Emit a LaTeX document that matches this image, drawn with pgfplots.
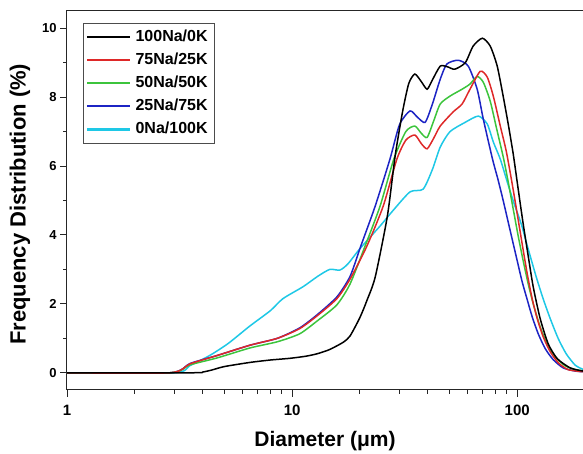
\documentclass[border=0pt]{standalone}
\usepackage{pgfplots}
\pgfplotsset{compat=1.18}
\usepackage{fontspec}
\setmainfont{Liberation Sans}
\definecolor{cRed}{RGB}{222,40,40}
\definecolor{cGreen}{RGB}{60,196,60}
\definecolor{cBlue}{RGB}{28,36,196}
\definecolor{cCyan}{RGB}{30,200,230}
\begin{document}
\begin{tikzpicture}
\begin{axis}[
  name=ax,
  scale only axis,
  width=516pt, height=379pt,
  xmode=log,
  xmin=1, xmax=196,
  ymin=-0.5, ymax=10.5,
  xtick={1,10,100},
  xticklabels={1,10,100},
  ytick={0,2,4,6,8,10},
  minor ytick={1,3,5,7,9},
  tick align=outside,
  xtick pos=left, ytick pos=left,
  major tick length=7pt, minor tick length=4pt,
  axis line style={line width=1pt, black!85},
  every tick/.style={line width=0.9pt, black!85},
  /pgf/number format/assume math mode=true,
  xticklabel style={font=\bfseries\fontsize{15}{15}\selectfont, yshift=-5pt},
  yticklabel style={font=\bfseries\fontsize{13}{13}\selectfont},
  xlabel={Diameter (μm)},
  ylabel={Frequency Distribution (\%)},
  xlabel style={font=\bfseries\fontsize{21}{21}\selectfont, at={(axis description cs:0.5,-0.134)}, anchor=center},
  ylabel style={font=\bfseries\fontsize{22}{22}\selectfont, at={(axis description cs:-0.091,0.49)}, anchor=center},
  legend style={at={(axis description cs:0.031,0.968)}, anchor=north west,
    draw=black!70, line width=0.8pt, font=\bfseries\fontsize{16}{16}\selectfont,
    nodes={text height=11.5pt, text depth=3pt, inner ysep=4.3pt, inner xsep=4pt},
    row sep=0pt},
  legend cell align=left,
  legend image code/.code={\draw[#1, line width=2.2pt] (0pt,0pt) -- (43pt,0pt);},
  reverse legend,
  every axis plot/.append style={line width=1.5pt, smooth, tension=0.4},
]
% 0Na/100K
\addplot[cCyan] coordinates {
(1,0) (3,0) (3.5,0.2) (4.3,0.5) (5.2,0.85) (6.5,1.36) (8,1.8) (9.1,2.15) (11.2,2.5) (13,2.8) (14.7,3.0) (16.3,2.98) (17.7,3.16) (20,3.6) (24.6,4.26) (28,4.7) (33.4,5.25) (38.2,5.33) (42,5.9) (45.5,6.55) (50.3,7.0) (58.8,7.27) (67.2,7.45) (73.6,7.22) (78.3,6.7) (84.1,6.2) (90.3,5.54) (97,4.9) (104.2,4.32) (111.9,3.59) (121.5,2.78) (130.5,2.14) (140.2,1.57) (152.2,0.99) (165.1,0.55) (181,0.22) (196,0.1)
};
\addlegendentry{0Na/100K}
% 25Na/75K
\addplot[cBlue] coordinates {
(1,0) (2.87,0) (3.52,0.27) (4.64,0.5) (6.5,0.8) (8.6,1.0) (10.8,1.3) (12.9,1.68) (15.8,2.2) (18.1,2.8) (20.2,3.68) (23.4,4.84) (27.2,6.2) (30,7.2) (33.4,7.6) (36,7.42) (39,7.27) (42,7.8) (45.5,8.52) (48.7,8.96) (54.7,9.07) (60.6,8.9) (66.4,8.23) (70.7,7.36) (77.7,6.2) (82.3,5.59) (86.7,4.99) (93.1,4.12) (100,3.25) (105.2,2.64) (110.8,2.12) (116.6,1.62) (124,1.13) (133.2,0.7) (144.5,0.38) (160.2,0.14) (181,0.05) (196,0.03)
};
\addlegendentry{25Na/75K}
% 50Na/50K
\addplot[cGreen] coordinates {
(1,0) (2.87,0) (3.52,0.23) (4.64,0.43) (6.5,0.72) (8.6,0.9) (10.8,1.13) (12.9,1.5) (15.8,1.97) (18.1,2.58) (21.1,3.68) (24.6,4.84) (28.3,6.2) (32,7.0) (35.1,7.16) (37.5,6.95) (39.8,6.83) (42.5,7.3) (45.5,7.8) (50.3,8.03) (56.9,8.23) (61.7,8.38) (66.4,8.6) (70.7,8.43) (75.9,7.88) (81.1,7.07) (86.7,6.26) (91.2,5.54) (96,4.75) (101,3.97) (106.3,3.25) (111.9,2.58) (117.8,2.0) (126.5,1.33) (135.9,0.84) (147.5,0.46) (163.4,0.2) (181,0.09) (196,0.06)
};
\addlegendentry{50Na/50K}
% 75Na/25K
\addplot[cRed] coordinates {
(1,0) (2.87,0) (3.52,0.26) (4.64,0.5) (6.5,0.8) (8.6,1.0) (10.8,1.28) (12.9,1.65) (15.8,2.15) (18.1,2.72) (21.5,3.68) (25.4,4.84) (29.2,6.2) (32,6.75) (35.1,6.9) (37.5,6.65) (39.8,6.5) (42.5,6.8) (45.5,7.16) (51.9,7.57) (56.9,7.8) (61.7,8.23) (68.5,8.75) (73.6,8.58) (78.3,8.03) (84.1,7.16) (89.4,6.43) (95,5.48) (100,4.61) (105.2,3.74) (110.8,2.87) (116.6,2.14) (122.7,1.57) (130.5,1.04) (140.2,0.61) (152.2,0.29) (168.5,0.09) (196,0.03)
};
\addlegendentry{75Na/25K}
% 100Na/0K
\addplot[black] coordinates {
(1,0) (3.6,0) (4.0,0.02) (4.4,0.08) (5,0.18) (6.5,0.3) (8,0.37) (9.8,0.42) (11.5,0.48) (12.9,0.55) (14.5,0.66) (15.8,0.78) (17,0.9) (18.1,1.07) (20,1.6) (21.5,2.1) (23.4,2.78) (26.5,4.55) (28.7,6.3) (31,7.6) (33,8.4) (35.1,8.67) (37.5,8.45) (39.8,8.23) (42,8.5) (45.5,8.9) (49,8.88) (52.8,8.81) (58.8,9.0) (63.7,9.48) (70,9.71) (75.9,9.48) (81.5,8.9) (86.6,8.03) (91.2,7.22) (96,6.35) (101,5.33) (106.3,4.32) (111.9,3.39) (117.8,2.49) (126.5,1.57) (137.3,0.84) (150.6,0.41) (172,0.14) (196,0.05)
};
\addlegendentry{100Na/0K}
\end{axis}
\pgfresetboundingbox
\path[use as bounding box] ([xshift=-67pt,yshift=-64pt]ax.south west) rectangle ([yshift=11pt]ax.north east);
\end{tikzpicture}
\end{document}
